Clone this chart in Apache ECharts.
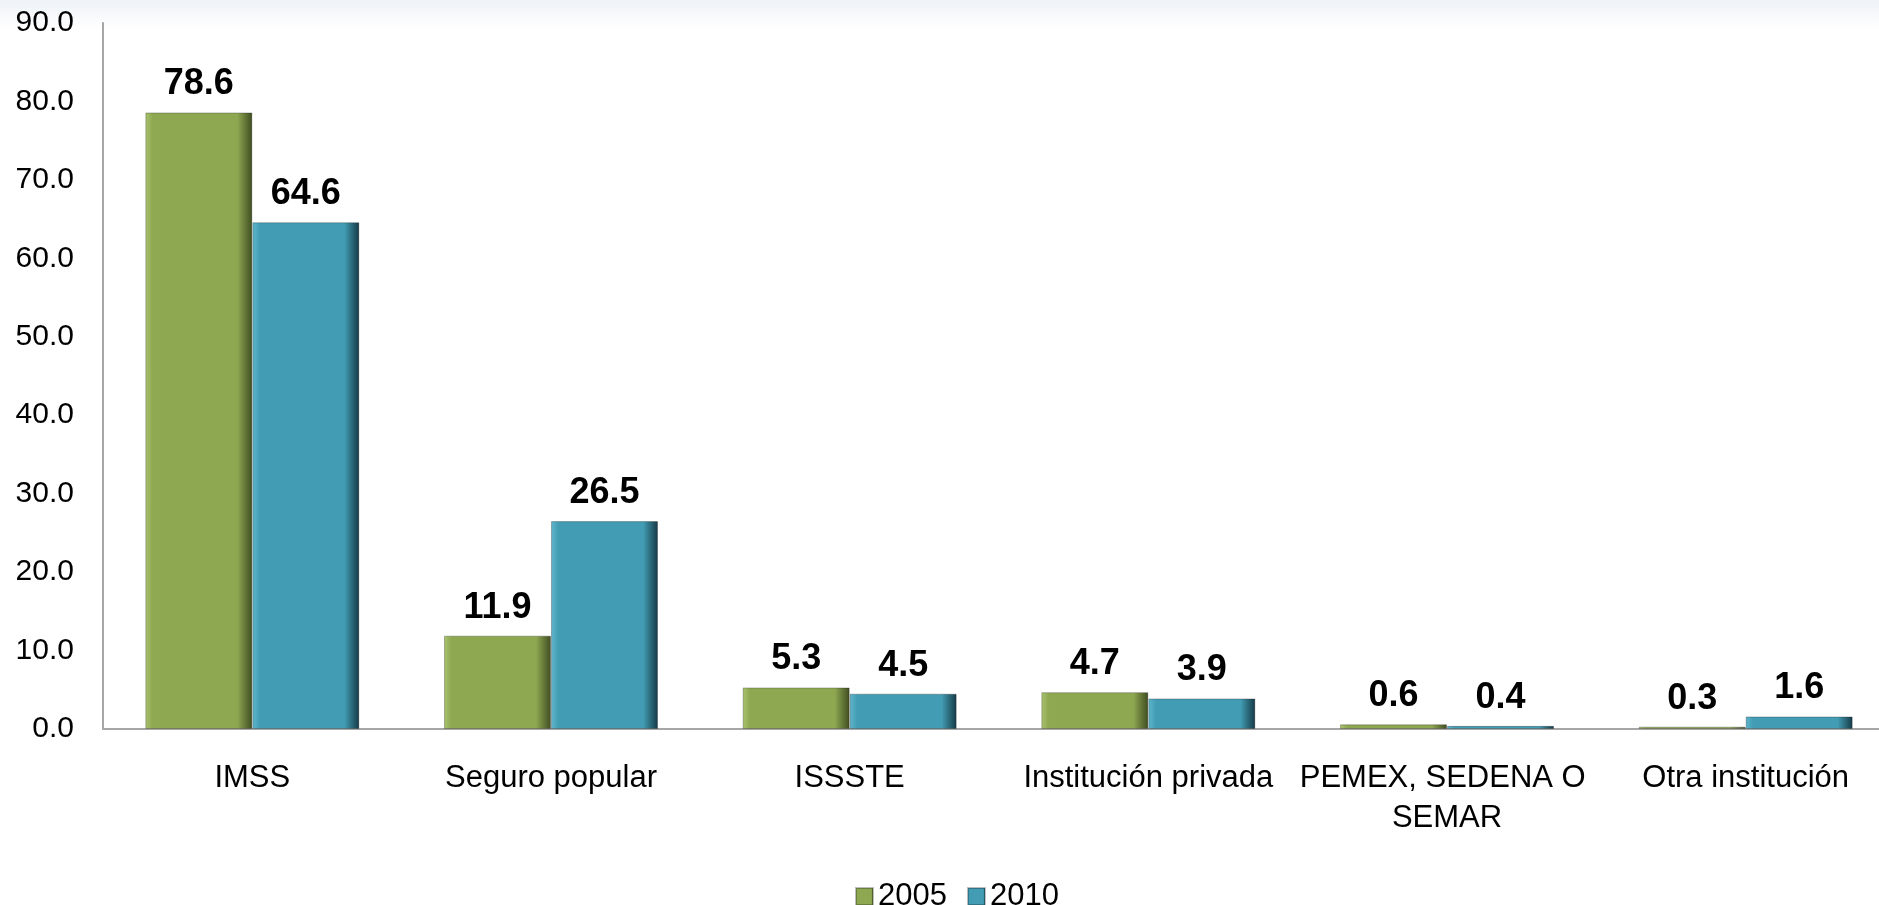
<html lang="es">
  <head>
    <meta charset="utf-8">
    <title>Derechohabiencia 2005 - 2010</title>
    <script type="text/javascript" src="https://cdn.jsdelivr.net/npm/echarts@6/dist/echarts.min.js"></script>
    <style>
      html, body { margin: 0; padding: 0; background: #fff; overflow: hidden; }
      /* un poco mas ancho que la ventana: la ultima categoria queda cortada como en el original */
      #chartDiv { width: 1900px; height: 905px; }
    </style>
  </head>
  <body>
    <div id="chartDiv"></div>

    <script>
      // datos
      var categorias = ['IMSS', 'Seguro popular', 'ISSSTE', 'Institución privada', 'PEMEX, SEDENA O SEMAR', 'Otra institución'];
      var anios = ['2005', '2010'];
      var valores2005 = [78.6, 11.9, 5.3, 4.7, 0.6, 0.3];
      var valores2010 = [64.6, 26.5, 4.5, 3.9, 0.4, 1.6];
      var ticksY = [0, 10, 20, 30, 40, 50, 60, 70, 80, 90];

      var FUENTE = 'Liberation Sans, Arial, sans-serif';

      function relleno(claro, base, oscuro){
        return new echarts.graphic.LinearGradient(0, 0, 1, 0, [
          { offset: 0, color: claro },
          { offset: 0.07, color: base },
          { offset: 0.86, color: base },
          { offset: 1, color: oscuro }
        ]);
      }

      function serie(nombre, datos, claro, base, oscuro){
        return {
          name: nombre,
          type: 'bar',
          data: datos,
          barWidth: 107,
          barGap: '0%',
          itemStyle: {
            color: relleno(claro, base, oscuro),
            borderColor: 'rgba(0,0,0,0.25)',
            borderWidth: 1
          },
          label: {
            show: true,
            position: 'top',
            distance: 10,
            fontFamily: FUENTE,
            fontSize: 36,
            fontWeight: 'bold',
            color: '#000',
            formatter: function(p){ return p.value.toFixed(1); }
          }
        };
      }

      var chart = echarts.init(document.getElementById('chartDiv'));
      chart.setOption({
        animation: false,
        backgroundColor: '#fff',
        graphic: [{
          type: 'rect',
          left: 0,
          top: 0,
          z: -10,
          shape: { width: 1900, height: 30 },
          style: {
            fill: new echarts.graphic.LinearGradient(0, 0, 0, 1, [
              { offset: 0, color: '#eef3f8' },
              { offset: 1, color: '#ffffff' }
            ])
          }
        }],
        legend: {
          data: anios,
          left: 850,
          top: 876,
          itemWidth: 17,
          itemHeight: 17,
          itemGap: 20,
          icon: 'rect',
          textStyle: { fontFamily: FUENTE, fontSize: 31, color: '#000' }
        },
        grid: {
          left: 103,
          top: 23,
          width: 1792,
          height: 706
        },
        xAxis: {
          type: 'category',
          data: categorias,
          axisLine: { lineStyle: { color: '#a6a6a6', width: 2 } },
          axisTick: { show: false },
          axisLabel: {
            interval: 0,
            margin: 29,
            fontFamily: FUENTE,
            fontSize: 31,
            color: '#000',
            lineHeight: 40,
            width: 300,
            overflow: 'break'
          }
        },
        yAxis: {
          type: 'value',
          min: ticksY[0],
          max: ticksY[ticksY.length - 1],
          interval: 10,
          axisLine: { show: true, lineStyle: { color: '#a6a6a6', width: 2 } },
          axisTick: { show: false },
          splitLine: { show: false },
          axisLabel: {
            margin: 29,
            fontFamily: FUENTE,
            fontSize: 30,
            color: '#000',
            formatter: function(v){ return v.toFixed(1); }
          }
        },
        series: [
          serie(anios[0], valores2005, '#a9c46e', '#8ea852', '#3f4c20'),
          serie(anios[1], valores2010, '#5fb6cc', '#429db4', '#153845')
        ]
      });
    </script>
  </body>
</html>
